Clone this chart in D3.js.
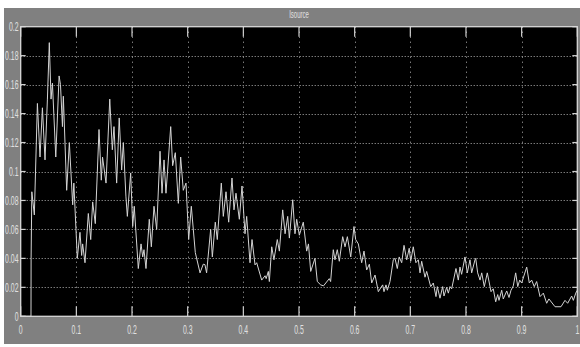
<!DOCTYPE html>
<html>
<head>
<meta charset="utf-8">
<script src="https://cdn.jsdelivr.net/npm/d3@7"></script>
<style>
  html, body { margin: 0; padding: 0; background: #ffffff; }
  svg { display: block; }
  text { font-family: "Liberation Sans", Arial, sans-serif; fill: #e0e0e0; }
</style>
</head>
<body>
<svg id="chart" width="580" height="347"></svg>
<script>
// Scope trace of the source current (time in s, current in A)
const timeS = [
  0, 0.0185, 0.0187, 0.020, 0.0245, 0.030, 0.0347, 0.039, 0.0437, 0.048, 0.0514,
  0.0545, 0.057, 0.063, 0.069, 0.0715, 0.075, 0.0766, 0.0826, 0.0874, 0.0934,
  0.0955, 0.1017, 0.1065, 0.1095, 0.1113, 0.1155, 0.1215, 0.1258, 0.1293, 0.134,
  0.1407, 0.1448, 0.147, 0.1533, 0.160,
  0.1646, 0.1676, 0.1724, 0.177, 0.1814, 0.1844, 0.189, 0.1916, 0.1976, 0.2012,
  0.204, 0.2113, 0.2162, 0.2192, 0.2215, 0.2251, 0.231, 0.2347, 0.2395, 0.2443,
  0.2503, 0.2539, 0.2575, 0.261, 0.2695, 0.273, 0.2778, 0.2832, 0.2874, 0.2921,
  0.297, 0.3018, 0.3065, 0.3137, 0.3222, 0.328,
  0.331, 0.334, 0.3413, 0.3443, 0.3496, 0.3532, 0.3604, 0.364, 0.3689, 0.3737,
  0.3796, 0.3832, 0.3868, 0.3928, 0.3976, 0.403, 0.406, 0.412, 0.4156, 0.421,
  0.424, 0.433, 0.439, 0.441, 0.4449, 0.4467, 0.451, 0.455, 0.461, 0.4647,
  0.4707, 0.475, 0.4797, 0.4827, 0.4887,
  0.4928, 0.4959, 0.5006, 0.5077, 0.5138, 0.517, 0.521, 0.5287, 0.5329, 0.539,
  0.544, 0.5544, 0.5568, 0.5616, 0.5646, 0.5688, 0.5724, 0.5785, 0.5827, 0.5869,
  0.593, 0.5988, 0.6018, 0.6066, 0.6126, 0.6168, 0.6216, 0.6264, 0.6306, 0.6366,
  0.6425, 0.6503,
  0.6527, 0.6563, 0.6587, 0.6635, 0.6694, 0.6725, 0.6766, 0.680, 0.6845, 0.6887,
  0.6935, 0.698, 0.7007, 0.7053, 0.710, 0.7144, 0.7174, 0.7204, 0.7264, 0.7294,
  0.7366, 0.7413, 0.7461, 0.7485, 0.7533, 0.7581, 0.7605, 0.7653, 0.7683, 0.7713,
  0.7743, 0.782, 0.7862, 0.7892, 0.7922, 0.7982, 0.8024, 0.8072, 0.8102, 0.8162,
  0.8175, 0.821, 0.8253, 0.8283, 0.8329, 0.8383, 0.845, 0.849, 0.8534, 0.857,
  0.8593, 0.8642, 0.867, 0.8732, 0.8773, 0.8809, 0.885, 0.8893, 0.893, 0.8965,
  0.9001, 0.9091, 0.9138, 0.918, 0.9227, 0.927, 0.933, 0.939, 0.945, 0.949,
  0.96, 0.9707, 0.9779, 0.9827, 0.9899, 0.9929, 0.9972, 1.0
];

const isource = [
  0, 0, 0.040, 0.086, 0.070, 0.147, 0.110, 0.144, 0.108, 0.150, 0.189,
  0.150, 0.161, 0.110, 0.166, 0.160, 0.131, 0.152, 0.087, 0.120, 0.077,
  0.092, 0.040, 0.058, 0.042, 0.050, 0.037, 0.071, 0.053, 0.079, 0.064,
  0.129, 0.094, 0.110, 0.092, 0.150,
  0.115, 0.131, 0.092, 0.137, 0.101, 0.120, 0.083, 0.069, 0.099, 0.062,
  0.076, 0.033, 0.050, 0.041, 0.046, 0.033, 0.067, 0.048, 0.076, 0.060,
  0.114, 0.085, 0.108, 0.085, 0.131, 0.104, 0.113, 0.078, 0.110, 0.087,
  0.092, 0.053, 0.076, 0.044, 0.030, 0.036,
  0.0357, 0.030, 0.060, 0.041, 0.065, 0.053, 0.092, 0.069, 0.086, 0.065,
  0.0955, 0.0735, 0.085, 0.067, 0.090, 0.057, 0.069, 0.037, 0.053, 0.0355,
  0.037, 0.025, 0.028, 0.026, 0.031, 0.024, 0.048, 0.039, 0.053, 0.045,
  0.0735, 0.057, 0.069, 0.054, 0.0805,
  0.057, 0.067, 0.056, 0.065, 0.045, 0.050, 0.031, 0.040, 0.024, 0.0217,
  0.021, 0.026, 0.024, 0.046, 0.039, 0.046, 0.038, 0.055, 0.048, 0.055,
  0.041, 0.062, 0.053, 0.050, 0.037, 0.045, 0.032, 0.036, 0.023, 0.0285,
  0.017, 0.0217,
  0.017, 0.0217, 0.018, 0.024, 0.039, 0.040, 0.033, 0.041, 0.037, 0.049,
  0.039, 0.047, 0.038, 0.048, 0.037, 0.039, 0.030, 0.038, 0.027, 0.031,
  0.0205, 0.023, 0.0136, 0.0205, 0.0125, 0.0205, 0.014, 0.020, 0.016, 0.0205,
  0.019, 0.033, 0.025, 0.034, 0.029, 0.041, 0.030, 0.039, 0.030, 0.039,
  0.040, 0.030, 0.025, 0.030, 0.0205, 0.030, 0.017, 0.019, 0.010, 0.015,
  0.011, 0.018, 0.012, 0.0175, 0.013, 0.018, 0.021, 0.030, 0.0205, 0.025,
  0.023, 0.034, 0.023, 0.025, 0.0205, 0.024, 0.0136, 0.016, 0.009, 0.012,
  0.0066, 0.0066, 0.011, 0.009, 0.014, 0.011, 0.016, 0.018
];

const xTicks = [0, 0.1, 0.2, 0.3, 0.4, 0.5, 0.6, 0.7, 0.8, 0.9, 1];
const xTickLabels = ["0", "0.1", "0.2", "0.3", "0.4", "0.5", "0.6", "0.7", "0.8", "0.9", "1"];
const yTicks = [0, 0.02, 0.04, 0.06, 0.08, 0.1, 0.12, 0.14, 0.16, 0.18, 0.2];
const yTickLabels = ["0", "0.02", "0.04", "0.06", "0.08", "0.1", "0.12", "0.14", "0.16", "0.18", "0.2"];
const titleText = "Isource";

const svg = d3.select("#chart");

// scope window frame
const frame = { x: 4, y: 8, w: 576, h: 336 };
svg.append("rect")
  .attr("x", frame.x).attr("y", frame.y)
  .attr("width", frame.w).attr("height", frame.h)
  .attr("fill", "#808080");

const plot = { left: 20.7, right: 577.3, top: 26.7, bottom: 316.3 };

const x = d3.scaleLinear().domain([0, 1]).range([plot.left, plot.right]);
const y = d3.scaleLinear().domain([0, 0.2]).range([plot.bottom, plot.top]);

svg.append("rect")
  .attr("x", plot.left).attr("y", plot.top)
  .attr("width", plot.right - plot.left).attr("height", plot.bottom - plot.top)
  .attr("fill", "#000000");

// dotted grid
const grid = svg.append("g").attr("stroke", "#b0b0b0").attr("stroke-width", 1)
  .attr("stroke-dasharray", "1,2");
grid.selectAll("line.gx").data(xTicks.slice(1, -1)).join("line")
  .attr("x1", d => Math.round(x(d)) + 0.5).attr("x2", d => Math.round(x(d)) + 0.5)
  .attr("y1", plot.top).attr("y2", plot.bottom)
  .attr("stroke-dasharray", "1,4");
grid.selectAll("line.gy").data(yTicks.slice(1, -1)).join("line")
  .attr("y1", d => Math.round(y(d)) + 0.5).attr("y2", d => Math.round(y(d)) + 0.5)
  .attr("x1", plot.left).attr("x2", plot.right);

// signal trace
const pts = timeS.map((t, i) => [t, isource[i]]);
const line = d3.line().x(d => x(d[0])).y(d => y(d[1]));
svg.append("path")
  .datum(pts)
  .attr("d", line)
  .attr("fill", "none")
  .attr("stroke", "#d4d4d4")
  .attr("stroke-width", 1)
  .attr("stroke-linejoin", "round");

// inner tick marks on all four sides
const tickColor = "#d0d0d0";
const ticks = svg.append("g").attr("stroke", tickColor).attr("stroke-width", 1.2);
const xTickLen = 10, yTickLen = 5;
xTicks.forEach(v => {
  const px = x(v);
  ticks.append("line").attr("x1", px).attr("x2", px).attr("y1", plot.bottom).attr("y2", plot.bottom - xTickLen);
  ticks.append("line").attr("x1", px).attr("x2", px).attr("y1", plot.top).attr("y2", plot.top + xTickLen);
});
yTicks.forEach(v => {
  const py = y(v);
  ticks.append("line").attr("x1", plot.left).attr("x2", plot.left + yTickLen).attr("y1", py).attr("y2", py);
  ticks.append("line").attr("x1", plot.right).attr("x2", plot.right - yTickLen).attr("y1", py).attr("y2", py);
});

// axes box
svg.append("rect")
  .attr("x", plot.left).attr("y", plot.top)
  .attr("width", plot.right - plot.left).attr("height", plot.bottom - plot.top)
  .attr("fill", "none").attr("stroke", "#d8d8d8").attr("stroke-width", 1.3);

// tick labels (narrow scope font)
const sx = 0.55;
const xl = svg.append("g");
xTicks.forEach((v, i) => {
  xl.append("text")
    .attr("transform", `translate(${x(v)},${334}) scale(${sx},1)`)
    .attr("text-anchor", "middle")
    .attr("font-size", 12.5)
    .text(xTickLabels[i]);
});
const yl = svg.append("g");
yTicks.forEach((v, i) => {
  yl.append("text")
    .attr("transform", `translate(${18.5},${y(v) + 4.5}) scale(${sx},1)`)
    .attr("text-anchor", "end")
    .attr("font-size", 12.5)
    .text(yTickLabels[i]);
});

// title
svg.append("text")
  .attr("transform", `translate(${(plot.left + plot.right) / 2},${18}) scale(0.6,1)`)
  .attr("text-anchor", "middle")
  .attr("font-size", 10)
  .attr("fill", "#f0f0f0")
  .text(titleText);
</script>
</body>
</html>
